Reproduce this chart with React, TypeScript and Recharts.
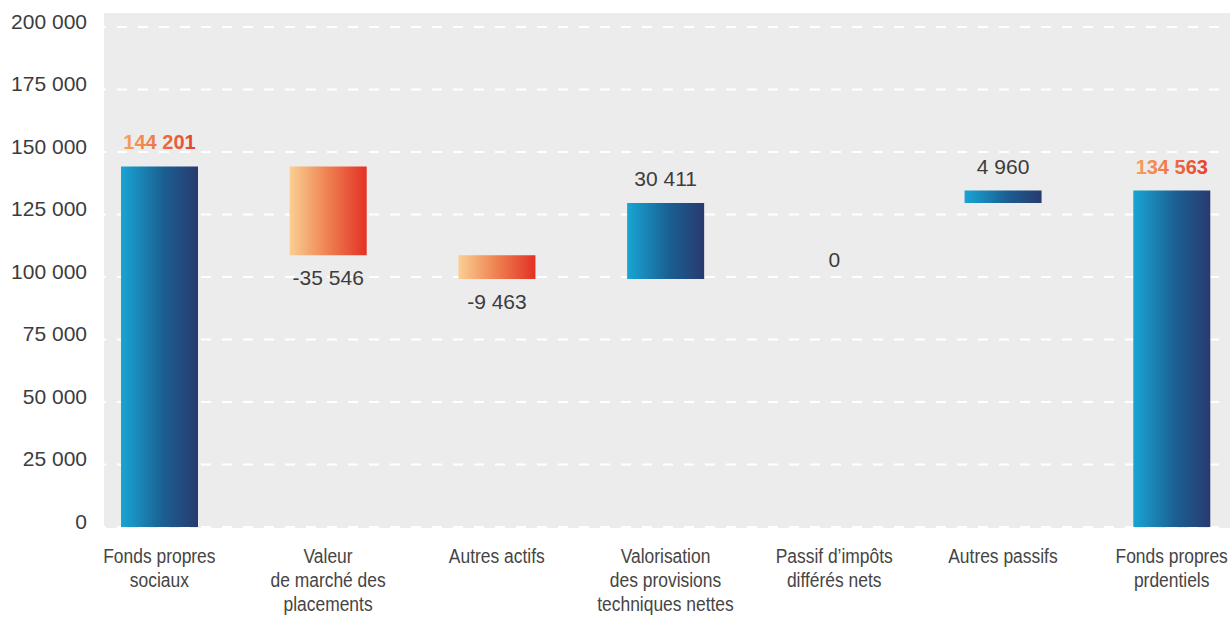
import React from 'react';
import { BarChart, Bar, XAxis, YAxis, CartesianGrid, LabelList, Cell } from 'recharts';

// Waterfall: from "Fonds propres sociaux" to "Fonds propres prudentiels"
const categories = [
  'Fonds propres\nsociaux',
  'Valeur\nde marché des\nplacements',
  'Autres actifs',
  'Valorisation\ndes provisions\ntechniques nettes',
  'Passif d’impôts\ndifférés nets',
  'Autres passifs',
  'Fonds propres\nprdentiels',
];
const kinds = ['total', 'delta', 'delta', 'delta', 'delta', 'delta', 'total'];
const values = [144201, -35546, -9463, 30411, 0, 4960, 134563];
const yTicks = [0, 25000, 50000, 75000, 100000, 125000, 150000, 175000, 200000];

type Row = { name: string; kind: string; value: number; base: number; size: number };

const rows: Row[] = (() => {
  let running = 0;
  return categories.map((name, i) => {
    const v = values[i];
    if (kinds[i] === 'total') {
      running = v;
      return { name, kind: 'total', value: v, base: 0, size: v };
    }
    const start = running;
    const end = running + v;
    running = end;
    return { name, kind: 'delta', value: v, base: Math.min(start, end), size: Math.abs(v) };
  });
})();

const fmt = (v: number) => {
  const s = Math.abs(v).toString().replace(/\B(?=(\d{3})+(?!\d))/g, ' ');
  return v < 0 ? '-' + s : s;
};

const NUM_FONT = '"Liberation Sans", Arial, Helvetica, sans-serif';
const CAT_FONT = '"Liberation Sans", Arial, Helvetica, sans-serif';

const YTick = (props: any) => {
  const { x, y, payload } = props;
  return (
    <text x={x + 12} y={y + 1.5} textAnchor="end" fontFamily={NUM_FONT} fontSize={21} fill="#3c3c3c">
      {fmt(payload.value)}
    </text>
  );
};

// Category labels are set in a condensed cut: regular face squeezed horizontally
const XTick = (props: any) => {
  const { x, y, payload } = props;
  const lines = String(payload.value).split('\n');
  return (
    <g transform={`translate(${x},${y}) scale(0.83,1)`}>
      <text x={0} y={0} textAnchor="middle" fontFamily={CAT_FONT} fontSize={21} fill="#454545">
        {lines.map((l, i) => (
          <tspan key={i} x={0} dy={i === 0 ? 36 : 24}>
            {l}
          </tspan>
        ))}
      </text>
    </g>
  );
};

const ValueLabel = (props: any) => {
  const { x, y, width, height, value } = props;
  const row = rows.find((r) => r.name === value);
  if (!row) return null;
  const cx = x + width / 2;
  if (row.kind === 'total') {
    return (
      <text x={cx} y={y - 17} textAnchor="middle" fontFamily={NUM_FONT} fontSize={20} fontWeight={700} fill="url(#totalText)">
        {fmt(row.value)}
      </text>
    );
  }
  let ty: number;
  if (row.value > 0) ty = y - 17;
  else if (row.value < 0) ty = y + height + 30;
  else ty = y + height + 64;
  return (
    <text x={cx} y={ty} textAnchor="middle" fontFamily={NUM_FONT} fontSize={21} fill="#3c3c3c">
      {fmt(row.value)}
    </text>
  );
};

export default function App() {
  return (
    <div style={{ position: 'absolute', left: 0, top: 0, width: 1230, height: 617, overflow: 'hidden', background: '#ffffff' }}>
      <div style={{ position: 'absolute', left: 104, top: 13, width: 1126, height: 515, background: '#ececec' }} />
      <div style={{ position: 'absolute', left: 0, top: 0 }}>
        <BarChart
          width={1260}
          height={617}
          data={rows}
          margin={{ top: 27, right: 4, bottom: 60, left: 45 }}
          barCategoryGap={0}
        >
          <defs>
            <linearGradient id="blueFill" x1="0" y1="0" x2="1" y2="0">
              <stop offset="0%" stopColor="#18a5d4" />
              <stop offset="55%" stopColor="#1b5f92" />
              <stop offset="100%" stopColor="#283a70" />
            </linearGradient>
            <linearGradient id="orangeFill" x1="0" y1="0" x2="1" y2="0">
              <stop offset="0%" stopColor="#facf93" />
              <stop offset="50%" stopColor="#ee8050" />
              <stop offset="100%" stopColor="#e33125" />
            </linearGradient>
            <linearGradient id="totalText" x1="0" y1="0" x2="1" y2="0">
              <stop offset="0%" stopColor="#f7a25e" />
              <stop offset="100%" stopColor="#e6412a" />
            </linearGradient>
          </defs>
          <CartesianGrid vertical={false} stroke="#ffffff" strokeWidth={2} strokeDasharray="10 11" />
          <XAxis
            dataKey="name"
            height={30}
            tick={<XTick />}
            tickLine={false}
            axisLine={false}
            tickSize={0}
            tickMargin={0}
            interval={0}
          />
          <YAxis
            width={30}
            domain={[0, 200000]}
            ticks={yTicks}
            interval={0}
            tick={<YTick />}
            tickLine={false}
            axisLine={false}
            tickSize={0}
            tickMargin={0}
          />
          <Bar dataKey="base" stackId="w" fill="transparent" barSize={77} isAnimationActive={false} />
          <Bar dataKey="size" stackId="w" barSize={77} minPointSize={1} isAnimationActive={false}>
            {rows.map((r, i) => (
              <Cell
                key={i}
                fill={r.size === 0 ? 'none' : r.kind === 'delta' && r.value < 0 ? 'url(#orangeFill)' : 'url(#blueFill)'}
              />
            ))}
            <LabelList dataKey="name" content={<ValueLabel />} />
          </Bar>
        </BarChart>
      </div>
    </div>
  );
}
